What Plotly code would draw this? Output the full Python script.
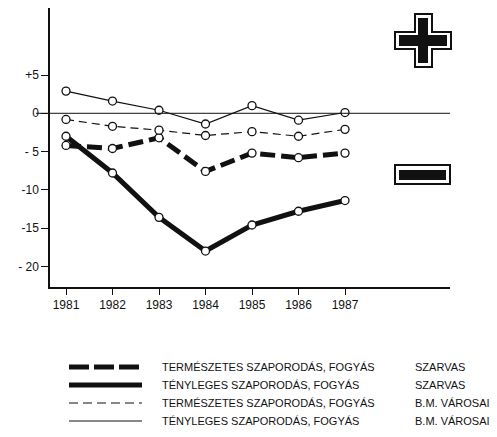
import plotly.graph_objects as go

years = [1981, 1982, 1983, 1984, 1985, 1986, 1987]
szarvas_termeszetes = [-4.2, -4.6, -3.2, -7.6, -5.2, -5.8, -5.2]
szarvas_tenyleges = [-3.0, -7.8, -13.6, -18.0, -14.6, -12.8, -11.4]
bm_termeszetes = [-0.8, -1.7, -2.2, -2.9, -2.4, -3.0, -2.1]
bm_tenyleges = [2.9, 1.6, 0.4, -1.4, 1.0, -0.9, 0.1]

ytick_vals = [5, 0, -5, -10, -15, -20]
ytick_text = ["+5", "0", "- 5", "-10", "-15", "- 20"]
xtick_text = ["1981", "1982", "1983", "1984", "1985", "1986", "1987"]

legend_left = [
    "TERMÉSZETES SZAPORODÁS, FOGYÁS",
    "TÉNYLEGES SZAPORODÁS, FOGYÁS",
    "TERMÉSZETES SZAPORODÁS, FOGYÁS",
    "TÉNYLEGES SZAPORODÁS, FOGYÁS",
]
legend_right = ["SZARVAS", "SZARVAS", "B.M. VÁROSAI", "B.M. VÁROSAI"]

# page has an 8px body margin; figure is laid out in screenshot pixels minus OFF
OFF = 8
W, H = 489, 429
ML, MT = 42, 0
PW, PH = 400, 279
MR, MB = W - ML - PW, H - MT - PH

def px(x):
    return (x - OFF - ML) / PW

def py(y):
    return (MT + PH - (y - OFF)) / PH

FONT = "Liberation Sans, Arial, sans-serif"
INK = "#111111"

fig = go.Figure()

marker = dict(symbol="circle", size=8, color="white", line=dict(color=INK, width=1.3))

fig.add_trace(go.Scatter(x=years, y=szarvas_tenyleges, mode="lines+markers",
                         line=dict(color=INK, width=5), marker=marker, showlegend=False))
fig.add_trace(go.Scatter(x=years, y=szarvas_termeszetes, mode="lines+markers",
                         line=dict(color=INK, width=5, dash="15px,6px"), marker=marker, showlegend=False))
fig.add_trace(go.Scatter(x=years, y=bm_termeszetes, mode="lines+markers",
                         line=dict(color=INK, width=1.2, dash="8px,5px"), marker=marker, showlegend=False))
fig.add_trace(go.Scatter(x=years, y=bm_tenyleges, mode="lines+markers",
                         line=dict(color=INK, width=1.2), marker=marker, showlegend=False))

shapes = []
shapes.append(dict(type="line", xref="paper", yref="y", x0=px(36), x1=px(450), y0=0, y1=0,
                   line=dict(color=INK, width=1)))

def cross_path(xa, xb, xc, xd, ya, yb, yc, yd):
    pts = [(xb, ya), (xc, ya), (xc, yb), (xd, yb), (xd, yc), (xc, yc), (xc, yd),
           (xb, yd), (xb, yc), (xa, yc), (xa, yb), (xb, yb)]
    return "M " + " L ".join(f"{px(x):.4f},{py(y):.4f}" for x, y in pts) + " Z"

shapes.append(dict(type="path", xref="paper", yref="paper",
                   path=cross_path(395, 415, 432, 451, 14, 32, 49, 67),
                   fillcolor="white", line=dict(color=INK, width=2)))
shapes.append(dict(type="path", xref="paper", yref="paper",
                   path=cross_path(399, 418, 428, 447, 18, 35, 46, 63),
                   fillcolor=INK, line=dict(color=INK, width=0)))
shapes.append(dict(type="rect", xref="paper", yref="paper", x0=px(395), x1=px(450),
                   y0=py(184), y1=py(165), fillcolor="white", line=dict(color=INK, width=2)))
shapes.append(dict(type="rect", xref="paper", yref="paper", x0=px(399), x1=px(446),
                   y0=py(180), y1=py(170), fillcolor=INK, line=dict(color=INK, width=0)))

rows_y = [367, 385, 403, 421]
styles = [dict(width=5, dash="20px,5px"), dict(width=5, dash="solid"),
          dict(width=1.2, dash="9px,5px"), dict(width=1.0, dash="solid")]
annotations = []
for ry, st, lt, rt in zip(rows_y, styles, legend_left, legend_right):
    shapes.append(dict(type="line", xref="paper", yref="paper", x0=px(69), x1=px(142),
                       y0=py(ry), y1=py(ry), line=dict(color=INK, **st)))
    annotations.append(dict(xref="paper", yref="paper", x=px(160), y=py(ry), text=lt,
                            showarrow=False, xanchor="left", yanchor="middle",
                            font=dict(family=FONT, size=11, color=INK)))
    annotations.append(dict(xref="paper", yref="paper", x=px(413), y=py(ry), text=rt,
                            showarrow=False, xanchor="left", yanchor="middle",
                            font=dict(family=FONT, size=11, color=INK)))

fig.update_layout(
    width=W, height=H,
    margin=dict(l=ML, r=MR, t=MT, b=MB),
    paper_bgcolor="white", plot_bgcolor="white",
    shapes=shapes, annotations=annotations,
    xaxis=dict(range=[1980.656, 1989.258], tickvals=years, ticktext=xtick_text,
               showgrid=False, zeroline=False, showline=True, linecolor=INK, linewidth=1.5,
               ticks="outside", ticklen=6, tickwidth=1.3, tickcolor=INK,
               tickfont=dict(family=FONT, size=12, color=INK)),
    yaxis=dict(range=[-22.7, 13.76], tickvals=ytick_vals, ticktext=ytick_text,
               showgrid=False, zeroline=False, showline=True, linecolor=INK, linewidth=1.5,
               ticks="outside", ticklen=7, tickwidth=1.3, tickcolor=INK,
               tickfont=dict(family=FONT, size=12, color=INK)),
)

fig.write_html("out.html")
